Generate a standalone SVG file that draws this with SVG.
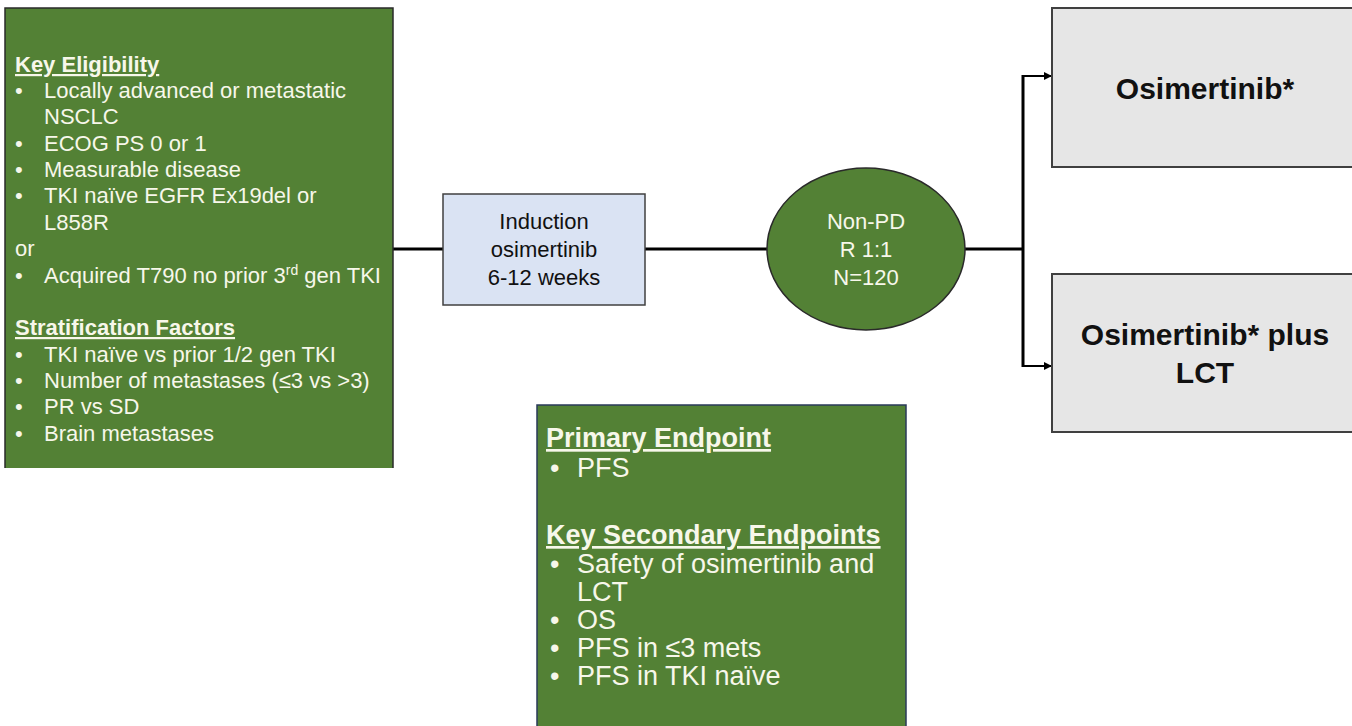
<svg xmlns="http://www.w3.org/2000/svg" width="1352" height="726" viewBox="0 0 1352 726">
<style>
.t{font-family:"Liberation Sans",Arial,sans-serif;fill:#f7f7ea}
.l{font-size:22px}
.h{font-size:22px;font-weight:bold;text-decoration:underline}
.h2{font-size:27px;font-weight:bold;text-decoration:underline}
.b2{font-size:27px}
.dk{font-family:"Liberation Sans",Arial,sans-serif;fill:#111}
.ln{stroke:#000;stroke-width:3;fill:none}
.ar{stroke:#000;stroke-width:2;fill:none}
</style>
<defs>
<marker id="ah" viewBox="0 0 10 10" refX="10" refY="5" markerWidth="4" markerHeight="4" orient="auto" markerUnits="strokeWidth">
<path d="M0,0 L10,5 L0,10 z" fill="#000"/>
</marker>
</defs>
<rect width="1352" height="726" fill="#fff"/>

<g id="connectors">
<line class="ln" x1="393" y1="249" x2="443" y2="249"/>
<line class="ln" x1="645" y1="249" x2="767" y2="249"/>
<line class="ln" x1="965" y1="249" x2="1023" y2="249"/>
<line class="ln" x1="1023" y1="75" x2="1023" y2="367"/>
<line class="ar" x1="1022" y1="76" x2="1052" y2="76" marker-end="url(#ah)"/>
<line class="ar" x1="1022" y1="366" x2="1052" y2="366" marker-end="url(#ah)"/>
</g>

<g id="eligibility">
<rect x="5" y="8" width="388" height="460" fill="#538135"/>
<path d="M5,468 V8 H393 V468" fill="none" stroke="#2a2a2a" stroke-width="1.5"/>
<text class="t h" x="15" y="72">Key Eligibility</text>
<g class="t l">
<text x="15" y="98">•</text><text x="44" y="98">Locally advanced or metastatic</text>
<text x="44" y="124">NSCLC</text>
<text x="15" y="151">•</text><text x="44" y="151">ECOG PS 0 or 1</text>
<text x="15" y="177">•</text><text x="44" y="177">Measurable disease</text>
<text x="15" y="203">•</text><text x="44" y="203">TKI naïve EGFR Ex19del or</text>
<text x="44" y="230">L858R</text>
<text x="15" y="256">or</text>
<text x="15" y="283">•</text><text x="44" y="283">Acquired T790 no prior 3<tspan font-size="14" dy="-8">rd</tspan><tspan dy="8"> gen TKI</tspan></text>
<text x="15" y="362">•</text><text x="44" y="362">TKI naïve vs prior 1/2 gen TKI</text>
<text x="15" y="388">•</text><text x="44" y="388">Number of metastases (≤3 vs &gt;3)</text>
<text x="15" y="414">•</text><text x="44" y="414">PR vs SD</text>
<text x="15" y="441">•</text><text x="44" y="441">Brain metastases</text>
</g>
<text class="t h" x="15" y="335">Stratification Factors</text>
</g>

<g id="induction">
<rect x="443" y="194" width="202" height="111" fill="#dae3f3" stroke="#404040" stroke-width="1.5"/>
<g class="dk" font-size="22" text-anchor="middle">
<text x="544" y="229">Induction</text>
<text x="544" y="257">osimertinib</text>
<text x="544" y="285">6-12 weeks</text>
</g>
</g>

<g id="randomization">
<ellipse cx="866" cy="249" rx="99" ry="81" fill="#538135" stroke="#2a2a2a" stroke-width="1.5"/>
<g class="t" font-size="22" text-anchor="middle">
<text x="866" y="229">Non-PD</text>
<text x="866" y="257">R 1:1</text>
<text x="866" y="285">N=120</text>
</g>
</g>

<g id="arm-osimertinib">
<rect x="1052" y="8" width="306" height="159" fill="#e6e6e6" stroke="#404040" stroke-width="2"/>
<text class="dk" x="1205" y="99" font-size="30" font-weight="bold" text-anchor="middle">Osimertinib*</text>
</g>

<g id="arm-osimertinib-lct">
<rect x="1052" y="274" width="306" height="158" fill="#e6e6e6" stroke="#404040" stroke-width="2"/>
<g class="dk" font-size="30" font-weight="bold" text-anchor="middle">
<text x="1205" y="345">Osimertinib* plus</text>
<text x="1205" y="383">LCT</text>
</g>
</g>

<g id="endpoints">
<rect x="537" y="405" width="369" height="330" fill="#538135" stroke="#2a3a5a" stroke-width="1.5"/>
<text class="t h2" x="546" y="447">Primary Endpoint</text>
<text class="t h2" x="546" y="544">Key Secondary Endpoints</text>
<g class="t b2">
<text x="550" y="477">•</text><text x="577" y="477">PFS</text>
<text x="550" y="573">•</text><text x="577" y="573">Safety of osimertinib and</text>
<text x="577" y="601">LCT</text>
<text x="550" y="629">•</text><text x="577" y="629">OS</text>
<text x="550" y="657">•</text><text x="577" y="657">PFS in ≤3 mets</text>
<text x="550" y="685">•</text><text x="577" y="685">PFS in TKI naïve</text>
</g>
</g>
</svg>
